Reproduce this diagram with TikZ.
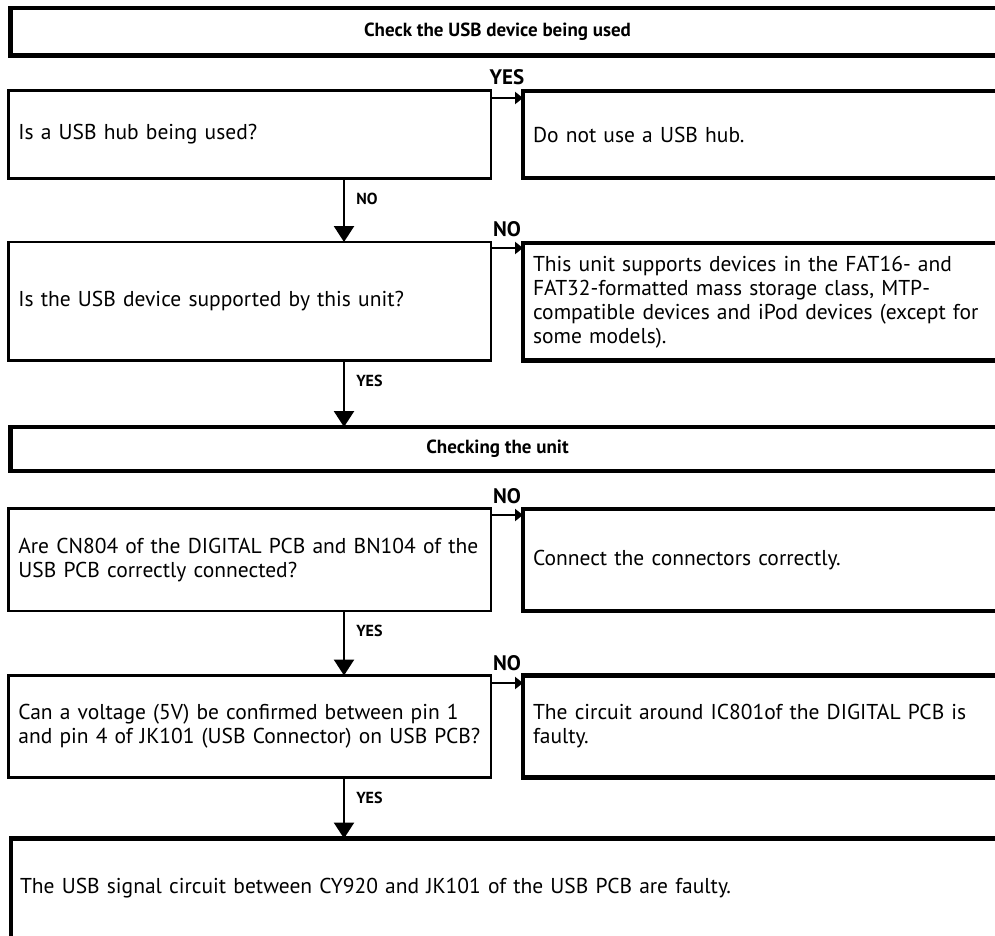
\documentclass[tikz,border=0pt]{standalone}
\usepackage{fontspec}
\setmainfont{PT Sans}
\usetikzlibrary{arrows.meta}
\begin{document}
\begin{tikzpicture}[x=1pt,y=-1pt,
  txt/.style={font=\fontsize{21.5}{24}\selectfont},
  ttl/.style={font=\fontsize{19}{24}\selectfont\bfseries},
  qbox/.style={draw, line width=2.5pt, anchor=north west, outer sep=0pt, inner xsep=9.5pt, inner ysep=0pt, minimum width=482.3pt, text width=463pt, align=left, txt},
  abox/.style={draw, line width=4.5pt, anchor=north west, outer sep=0pt, inner xsep=10pt, inner ysep=0pt, minimum width=487pt, text width=467pt, align=left, txt},
  hbox/.style={draw, line width=4.5pt, anchor=north west, outer sep=0pt, inner sep=0pt, minimum width=1000pt},
  rarr/.style={line width=2.5pt, -{Triangle[length=8pt,width=12pt]}},
  darr/.style={line width=2.5pt, -{Triangle[length=16pt,width=20pt]}},
  biglab/.style={font=\fontsize{21}{24}\selectfont\bfseries, inner sep=0pt},
  smlab/.style={font=\fontsize{16}{18}\selectfont\bfseries, inner sep=0pt}
]
\useasboundingbox (0,0) rectangle (995,936);
\clip (0,0) rectangle (995,936);

\node[hbox, minimum height=47.5pt, label={[ttl, xshift=-12.8pt]center:Check the USB device being used}] (t1) at (10.3,8) {};
\node[qbox, minimum height=87.8pt] (q1) at (8.7,90.7) {Is a USB hub being used?};
\node[abox, minimum height=87pt] (a1) at (523,91) {Do not use a USB hub.};
\node[qbox, minimum height=118.5pt] (q2) at (8.7,242) {Is the USB device supported by this unit?};
\node[abox, minimum height=117.5pt] (a2) at (523,243) {\mbox{This unit supports devices in the FAT16- and}\\\mbox{FAT32-formatted mass storage class, MTP-}\\\mbox{compatible devices and iPod devices (except for}\\some models).};
\node[hbox, minimum height=44pt, label={[ttl, xshift=-12.8pt]center:Checking the unit}] (t2) at (10.3,427) {};
\node[qbox, minimum height=102.5pt] (q3) at (8.7,508.5) {\mbox{Are CN804 of the DIGITAL PCB and BN104 of the}\\USB PCB correctly connected?};
\node[abox, minimum height=102pt] (a3) at (523,509) {Connect the connectors correctly.};
\node[qbox, minimum height=102pt] (q4) at (8.7,675.5) {\mbox{Can a voltage (5V) be confirmed between pin 1}\\\mbox{and pin 4 of JK101 (USB Connector) on USB PCB?}};
\node[abox, minimum height=102pt] (a4) at (523,675.5) {\mbox{The circuit around IC801of the DIGITAL PCB is}\\faulty.};
\node[abox, inner xsep=9pt, minimum width=1000pt, text width=982pt, minimum height=100pt] (f) at (11,838.5) {The USB signal circuit between CY920 and JK101 of the USB PCB are faulty.};

% right arrows
\draw[rarr] ([yshift=-7.3pt]q1.north east) -- ([yshift=-7.3pt]q1.north east -| a1.west) node[midway, biglab, yshift=21pt]{YES};
\draw[rarr] ([yshift=-6pt]q2.north east) -- ([yshift=-6pt]q2.north east -| a2.west) node[midway, biglab, yshift=19pt]{NO};
\draw[rarr] ([yshift=-6.5pt]q3.north east) -- ([yshift=-6.5pt]q3.north east -| a3.west) node[midway, biglab, yshift=19pt]{NO};
\draw[rarr] ([yshift=-7.5pt]q4.north east) -- ([yshift=-7.5pt]q4.north east -| a4.west) node[midway, biglab, yshift=20pt]{NO};

% down arrows
\draw[darr] ([xshift=335.3pt]q1.south west) -- ([xshift=335.3pt]q1.south west |- q2.north) node[pos=0, smlab, anchor=west, xshift=11pt, yshift=-20pt]{NO};
\draw[darr] ([xshift=335.3pt]q2.south west) -- ([xshift=335.3pt]q2.south west |- t2.north) node[pos=0, smlab, anchor=west, xshift=11pt, yshift=-20pt]{YES};
\draw[darr] ([xshift=335.3pt]q3.south west) -- ([xshift=335.3pt]q3.south west |- q4.north) node[pos=0, smlab, anchor=west, xshift=11pt, yshift=-20pt]{YES};
\draw[darr] ([xshift=335.3pt]q4.south west) -- ([xshift=335.3pt]q4.south west |- f.north) node[pos=0, smlab, anchor=west, xshift=11pt, yshift=-20pt]{YES};
\end{tikzpicture}
\end{document}
